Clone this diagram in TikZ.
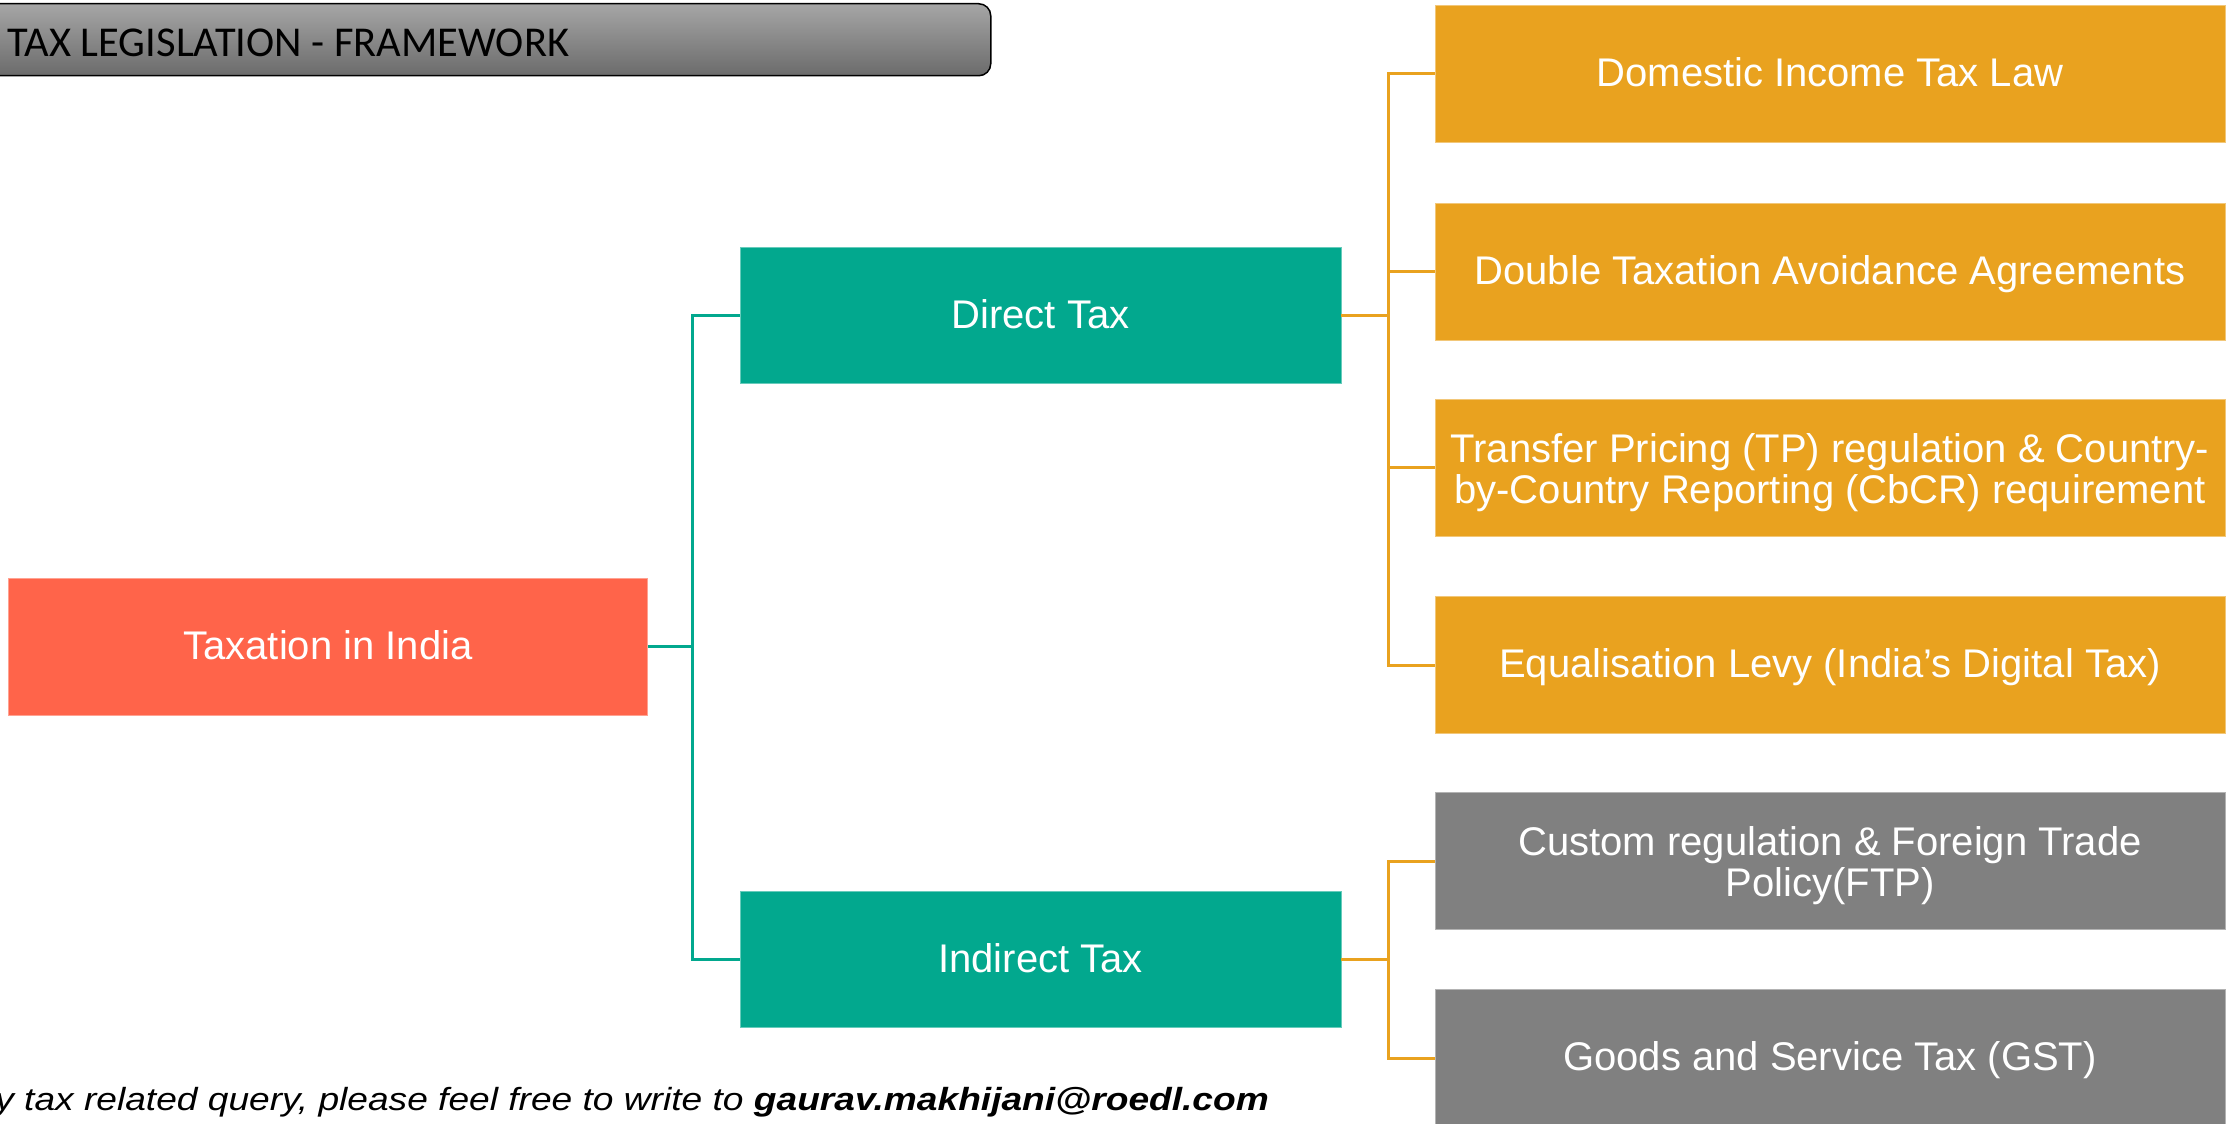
\documentclass[tikz,border=0pt]{standalone}
\usepackage{fontspec}
\setmainfont{Liberation Sans}
\newfontfamily\titlefont{Carlito}
\definecolor{tomatoc}{HTML}{FF644A}
\definecolor{tealc}{HTML}{02A88E}
\definecolor{orangec}{HTML}{E9A21F}
\definecolor{grayc}{HTML}{808080}
\begin{document}
\begin{tikzpicture}[x=1pt,y=-1pt,
  boxnode/.style={rectangle, inner sep=0pt, align=center, text=white,
    font=\fontsize{40}{41}\selectfont},
  oneline/.style={text height=33pt, text depth=8pt},
  rootbox/.style={boxnode, fill=tomatoc, draw=tomatoc!60!white, line width=0.8pt, minimum width=639pt, minimum height=137pt},
  midbox/.style={boxnode, fill=tealc, draw=tealc!60!white, line width=0.8pt, minimum width=601pt, minimum height=136pt},
  leafbox/.style={boxnode, fill=orangec, draw=orangec!60!white, line width=0.8pt, minimum width=790pt, minimum height=137pt},
  greybox/.style={boxnode, fill=grayc, draw=grayc!60!white, line width=0.8pt, minimum width=790pt, minimum height=137pt},
  tealline/.style={draw=tealc, line width=3pt},
  orangeline/.style={draw=orangec, line width=3pt}]
\useasboundingbox (0,0) rectangle (2228,1124);

% title bar
\node (titlebar) [anchor=north west, rectangle, rounded corners=12pt, draw=black, line width=1.5pt,
  top color=black!35, bottom color=black!58, minimum width=1010pt, minimum height=72pt] at (-20,3) {};
\node (titletext) [anchor=base west, inner sep=0pt, font=\titlefont\fontsize{42.5}{43}\selectfont] at (7,57) {TAX LEGISLATION - FRAMEWORK};

% boxes
\node (tax) [rootbox, oneline] at (328,646.5) {Taxation in India};
\node (direct) [midbox, oneline] at (1040.5,315.5) {Direct Tax};
\node (indirect) [midbox, oneline] at (1040.5,959.5) {Indirect Tax};
\node (b1) [leafbox, oneline] at (1830,74) {Domestic Income Tax Law};
\node (b2) [leafbox, oneline] at (1830,271.5) {Double Taxation Avoidance Agreements};
\node (b3) [leafbox] at (1830,467.5) {\rule{0pt}{39pt}Transfer Pricing (TP) regulation \& Country-\\by-Country Reporting (CbCR) requirement};
\node (b4) [leafbox, oneline] at (1830,665) {Equalisation Levy (India’s Digital Tax)};
\node (b5) [greybox] at (1830,861) {\rule{0pt}{39pt}Custom regulation \& Foreign Trade\\Policy(FTP)};
\node (b6) [greybox, oneline] at (1830,1058) {Goods and Service Tax (GST)};

% connectors
\coordinate (tj) at (692,646.5);
\draw[tealline] (tax.east) -- (tj);
\draw[tealline] (direct.west) -| (tj);
\draw[tealline] (indirect.west) -| (tj);

\coordinate (dj) at (1388,315.5);
\draw[orangeline] (direct.east) -- (dj);
\draw[orangeline] (b1.west) -| (dj);
\draw[orangeline] (b2.west) -| (dj);
\draw[orangeline] (b3.west) -| (dj);
\draw[orangeline] (b4.west) -| (dj);

\coordinate (ij) at (1388,959.5);
\draw[orangeline] (indirect.east) -- (ij);
\draw[orangeline] (b5.west) -| (ij);
\draw[orangeline] (b6.west) -| (ij);

% footer
\node (footer) [anchor=base east, inner sep=0pt, font=\itshape\fontsize{32}{32}\selectfont] at (1269,1110)
  {\scalebox{1.16}[1]{y tax related query, please feel free to write to \textbf{gaurav.makhijani@roedl.com}}};
\end{tikzpicture}
\end{document}
